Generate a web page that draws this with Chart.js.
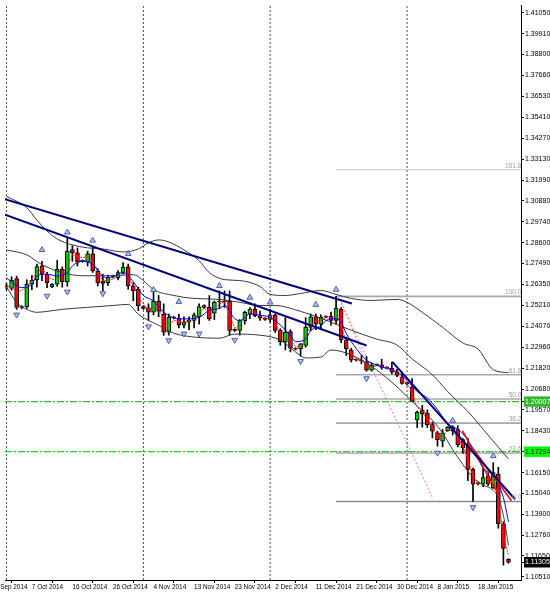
<!DOCTYPE html>
<html><head><meta charset="utf-8">
<script src="https://cdn.jsdelivr.net/npm/chart.js@4.4.1/dist/chart.umd.min.js"></script>
<style>html,body{margin:0;padding:0;background:#fff;overflow:hidden}#wrap{width:550px;height:592px}</style>
</head><body><div id="wrap"><canvas id="c" width="550" height="592"></canvas></div>
<script>
// ---------- data ----------
const dates = ['1 Oct 2014','2 Oct 2014','3 Oct 2014','5 Oct 2014','6 Oct 2014','7 Oct 2014','8 Oct 2014','9 Oct 2014','10 Oct 2014','12 Oct 2014','13 Oct 2014','14 Oct 2014','15 Oct 2014','16 Oct 2014','17 Oct 2014','19 Oct 2014','20 Oct 2014','21 Oct 2014','22 Oct 2014','23 Oct 2014','24 Oct 2014','26 Oct 2014','27 Oct 2014','28 Oct 2014','29 Oct 2014','30 Oct 2014','31 Oct 2014','2 Nov 2014','3 Nov 2014','4 Nov 2014','5 Nov 2014','6 Nov 2014','7 Nov 2014','9 Nov 2014','10 Nov 2014','11 Nov 2014','12 Nov 2014','13 Nov 2014','14 Nov 2014','16 Nov 2014','17 Nov 2014','18 Nov 2014','19 Nov 2014','20 Nov 2014','21 Nov 2014','23 Nov 2014','24 Nov 2014','25 Nov 2014','26 Nov 2014','27 Nov 2014','28 Nov 2014','30 Nov 2014','1 Dec 2014','2 Dec 2014','3 Dec 2014','4 Dec 2014','5 Dec 2014','7 Dec 2014','8 Dec 2014','9 Dec 2014','10 Dec 2014','11 Dec 2014','12 Dec 2014','14 Dec 2014','15 Dec 2014','16 Dec 2014','17 Dec 2014','18 Dec 2014','19 Dec 2014','21 Dec 2014','22 Dec 2014','23 Dec 2014','24 Dec 2014','25 Dec 2014','26 Dec 2014','28 Dec 2014','29 Dec 2014','30 Dec 2014','31 Dec 2014','1 Jan 2015','2 Jan 2015','4 Jan 2015','5 Jan 2015','6 Jan 2015','7 Jan 2015','8 Jan 2015','9 Jan 2015','11 Jan 2015','12 Jan 2015','13 Jan 2015','14 Jan 2015','15 Jan 2015','16 Jan 2015','18 Jan 2015','19 Jan 2015','20 Jan 2015','21 Jan 2015','22 Jan 2015','23 Jan 2015','25 Jan 2015'];
const open  = [1.2628,1.2614,1.2666,1.2510,1.2515,1.2636,1.2659,1.2735,1.2690,1.2622,1.2636,1.2717,1.2650,1.2824,1.2806,1.2760,1.2755,1.2800,1.2708,1.2654,1.2645,1.2675,1.2672,1.2700,1.2730,1.2627,1.2609,1.2515,1.2508,1.2485,1.2545,1.2475,1.2377,1.2457,1.2452,1.2415,1.2430,1.2440,1.2460,1.2520,1.2511,1.2480,1.2540,1.2545,1.2543,1.2392,1.2386,1.2439,1.2475,1.2502,1.2466,1.2452,1.2445,1.2470,1.2386,1.2323,1.2380,1.2287,1.2287,1.2305,1.2404,1.2460,1.2420,1.2462,1.2462,1.2440,1.2502,1.2332,1.2278,1.2228,1.2225,1.2216,1.2171,1.2198,1.2200,1.2185,1.2182,1.2162,1.2135,1.2100,1.2081,1.1902,1.1955,1.1938,1.1876,1.1831,1.1786,1.1843,1.1861,1.1849,1.1795,1.1759,1.1634,1.1558,1.1553,1.1598,1.1535,1.1608,1.1339,1.1147];
const high  = [1.2640,1.2676,1.2680,1.2520,1.2660,1.2683,1.2745,1.2760,1.2700,1.2640,1.2765,1.2730,1.2887,1.2845,1.2833,1.2768,1.2815,1.2842,1.2720,1.2690,1.2685,1.2685,1.2710,1.2753,1.2745,1.2645,1.2620,1.2520,1.2530,1.2600,1.2575,1.2530,1.2475,1.2462,1.2475,1.2460,1.2460,1.2480,1.2530,1.2525,1.2575,1.2545,1.2600,1.2600,1.2600,1.2395,1.2445,1.2490,1.2510,1.2530,1.2490,1.2455,1.2500,1.2475,1.2395,1.2455,1.2390,1.2292,1.2315,1.2455,1.2475,1.2475,1.2470,1.2465,1.2485,1.2570,1.2510,1.2350,1.2290,1.2232,1.2250,1.2245,1.2210,1.2205,1.2230,1.2190,1.2215,1.2175,1.2160,1.2105,1.2125,1.1950,1.1980,1.1955,1.1890,1.1840,1.1850,1.1865,1.1870,1.1870,1.1800,1.1800,1.1640,1.1565,1.1640,1.1615,1.1670,1.1645,1.1350,1.1150];
const low   = [1.2605,1.2604,1.2500,1.2503,1.2505,1.2607,1.2620,1.2655,1.2618,1.2618,1.2625,1.2620,1.2625,1.2760,1.2735,1.2755,1.2735,1.2700,1.2627,1.2600,1.2630,1.2670,1.2660,1.2690,1.2609,1.2547,1.2493,1.2500,1.2440,1.2470,1.2460,1.2359,1.2360,1.2448,1.2400,1.2400,1.2390,1.2400,1.2420,1.2505,1.2440,1.2445,1.2505,1.2510,1.2360,1.2380,1.2360,1.2420,1.2450,1.2460,1.2440,1.2440,1.2430,1.2375,1.2305,1.2280,1.2270,1.2280,1.2247,1.2295,1.2385,1.2390,1.2395,1.2455,1.2415,1.2420,1.2320,1.2250,1.2215,1.2220,1.2205,1.2165,1.2165,1.2195,1.2175,1.2180,1.2150,1.2135,1.2095,1.2090,1.2000,1.1860,1.1862,1.1860,1.1804,1.1759,1.1755,1.1840,1.1820,1.1755,1.1720,1.1572,1.1460,1.1550,1.1540,1.1545,1.1530,1.1315,1.1115,1.1125];
const close = [1.2622,1.2657,1.2510,1.2515,1.2636,1.2659,1.2732,1.2690,1.2645,1.2636,1.2717,1.2650,1.2815,1.2806,1.2755,1.2764,1.2800,1.2708,1.2645,1.2640,1.2672,1.2680,1.2699,1.2729,1.2627,1.2600,1.2520,1.2505,1.2485,1.2545,1.2490,1.2377,1.2457,1.2452,1.2415,1.2430,1.2440,1.2470,1.2515,1.2510,1.2448,1.2540,1.2545,1.2540,1.2386,1.2386,1.2439,1.2484,1.2502,1.2466,1.2452,1.2445,1.2470,1.2386,1.2323,1.2375,1.2290,1.2285,1.2314,1.2404,1.2460,1.2420,1.2457,1.2458,1.2440,1.2505,1.2335,1.2287,1.2225,1.2225,1.2220,1.2171,1.2198,1.2200,1.2185,1.2182,1.2160,1.2144,1.2099,1.2098,1.2001,1.1943,1.1935,1.1876,1.1840,1.1795,1.1831,1.1861,1.1840,1.1768,1.1750,1.1634,1.1554,1.1555,1.1589,1.1553,1.1616,1.1339,1.1205,1.1131];

const xTickIndex = [-3,5,13,21,29,37,45,53,61,69,77,85,93];
const xTickText  = ['28 Sep 2014','7 Oct 2014','16 Oct 2014','26 Oct 2014','4 Nov 2014','13 Nov 2014','23 Nov 2014','2 Dec 2014','11 Dec 2014','21 Dec 2014','30 Dec 2014','8 Jan 2015','18 Jan 2015'];
const yTickValues = [1.41050,1.39910,1.38800,1.37660,1.36530,1.35410,1.34270,1.33130,1.31990,1.30880,1.29740,1.28600,1.27490,1.26350,1.25210,1.24070,1.22960,1.21820,1.20680,1.19570,1.18430,1.17290,1.16150,1.15040,1.13900,1.12760,1.11650,1.10510];
const markedPrices = [1.20007, 1.17294, 1.11305];

const bbUpperIdx = [0,4,6,8,10,13,16,19,23,26,28,30,32,35,38,40,43,46,50,52,55,58,62,65,68,72,77,79,82,86,90,93,96,99];
const bbUpperVal = [1.3112,1.3050,1.2983,1.2924,1.2881,1.2849,1.2833,1.2827,1.2811,1.2827,1.2860,1.2876,1.2865,1.2822,1.2763,1.2699,1.2661,1.2656,1.2624,1.2581,1.2575,1.2586,1.2602,1.2581,1.2559,1.2548,1.2554,1.2538,1.2484,1.2403,1.2318,1.2285,1.2173,1.2157];
const bbMidIdx = [0,4,7,11,15,21,25,27,29,33,37,42,46,50,53,58,62,65,68,73,77,80,84,87,91,94,97,99];
const bbMidVal = [1.2822,1.2795,1.2742,1.2699,1.2682,1.2682,1.2688,1.2656,1.2607,1.2575,1.2559,1.2554,1.2538,1.2521,1.2521,1.2489,1.2452,1.2419,1.2387,1.2339,1.2307,1.2232,1.2146,1.2055,1.1947,1.1851,1.1754,1.1690];
const bbLowIdx = [0,2,4,6,8,11,16,21,24,26,30,33,37,42,45,50,54,57,59,62,64,68,73,77,80,84,86,88,90,92,94,96,97,98,99];
const bbLowVal = [1.2622,1.2538,1.2500,1.2484,1.2489,1.2500,1.2511,1.2521,1.2527,1.2473,1.2414,1.2371,1.2350,1.2344,1.2366,1.2360,1.2334,1.2269,1.2237,1.2242,1.2280,1.2253,1.2172,1.2081,1.2001,1.1900,1.1830,1.1740,1.1660,1.1590,1.1550,1.1520,1.1480,1.1384,1.1223];

const maBlueIdx = [0,3,5,6,8,10,12,13,15,17,19,20,21,23,25,27,29,31,33,35,38,40,42,43,45,46,48,50,52,54,56,57,59,60,62,63,65,66,67,69,71,73,75,77,79,81,83,85,87,89,91,92,93,94,96,98,99];
const maBlueVal = [1.2670,1.2618,1.2636,1.2681,1.2690,1.2681,1.2699,1.2735,1.2761,1.2743,1.2680,1.2672,1.2676,1.2700,1.2650,1.2575,1.2545,1.2485,1.2455,1.2448,1.2457,1.2495,1.2505,1.2520,1.2450,1.2439,1.2475,1.2468,1.2457,1.2415,1.2360,1.2325,1.2340,1.2385,1.2410,1.2439,1.2450,1.2430,1.2370,1.2287,1.2225,1.2198,1.2180,1.2162,1.2115,1.2055,1.2020,1.1958,1.1880,1.1850,1.1790,1.1725,1.1690,1.1640,1.1600,1.1480,1.1350];
const maRedIdx = [0,1,2,4,5,6,7,8,9,10,11,12,13,15,16,17,18,19,21,23,24,25,26,27,28,29,30,31,32,33,35,37,38,39,40,41,42,43,44,45,46,47,48,49,50,51,52,53,54,55,56,57,58,59,60,61,62,63,64,65,66,67,68,69,70,71,72,73,74,75,76,77,78,79,80,81,82,83,84,85,86,87,88,89,90,91,92,93,94,95,96,97,98,99];
const maRedVal = [1.2627,1.2618,1.2591,1.2618,1.2660,1.2705,1.2717,1.2690,1.2660,1.2672,1.2690,1.2735,1.2797,1.2779,1.2788,1.2760,1.2708,1.2654,1.2663,1.2700,1.2680,1.2630,1.2575,1.2530,1.2500,1.2510,1.2515,1.2440,1.2415,1.2440,1.2430,1.2445,1.2480,1.2505,1.2490,1.2500,1.2530,1.2540,1.2470,1.2400,1.2410,1.2450,1.2485,1.2485,1.2465,1.2450,1.2455,1.2430,1.2360,1.2345,1.2330,1.2300,1.2298,1.2350,1.2420,1.2440,1.2440,1.2455,1.2450,1.2470,1.2420,1.2315,1.2260,1.2230,1.2222,1.2200,1.2185,1.2195,1.2192,1.2185,1.2172,1.2152,1.2122,1.2100,1.2050,1.1970,1.1940,1.1905,1.1860,1.1818,1.1812,1.1845,1.1850,1.1805,1.1760,1.1690,1.1595,1.1555,1.1578,1.1580,1.1590,1.1480,1.1270,1.1170];

const fractalUpIdx = [7,12,17,24,29,34,42,48,52,61,65,88,96];
const fractalUpVal = [1.2822,1.2917,1.2873,1.2801,1.2606,1.2541,1.2627,1.2564,1.2538,1.2525,1.2607,1.1897,1.1706];
const fractalDnIdx = [2,8,12,19,28,32,35,38,45,58,71,85,92];
const fractalDnVal = [1.2471,1.2573,1.2595,1.2586,1.2407,1.2332,1.2368,1.2368,1.2334,1.2219,1.2126,1.1723,1.1428];

const navyLineA = [[-0.3,1.3096],[68.1,1.2532]];
const navyLineB = [[-0.3,1.3013],[71.0,1.2304]];
const navyLineC = [[76.1,1.2216],[100.3,1.1472]];
const redLineA  = [[89.9,1.1843],[97.0,1.1500]];
const redLineB  = [[90.9,1.1786],[99.6,1.1464]];
const pinkLineA = [[65.7,1.2553],[84.1,1.1475]];
const pinkLineB = [[66.1,1.2538],[70.4,1.2242]];

const fibLevels = [1.3256,1.2570,1.2146,1.2015,1.1884,1.1722,1.1460];
const fibText   = ['161.8','100.0','61.8','50.0','38.2','23.6','0.0'];
const fibStartIdx = 65;
const greenLevels = [1.20007, 1.17294];
const monthSepIdx = [0,27,52,79];

// ---------- chart ----------
const X_MIN = -0.293, X_MAX = 101.47, Y_MIN = 1.10346, Y_MAX = 1.41479;
Chart.defaults.font.family = '"Liberation Sans", Arial, sans-serif';
Chart.defaults.font.size = 7;

const pts = (idx, val) => idx.map((x, k) => ({x, y: val[k]}));
const seg = a => a.map(p => ({x: p[0], y: p[1]}));
const line = (data, color, width, order, extra) => Object.assign({type:'line', data, borderColor: color, borderWidth: width, pointRadius: 0, fill: false, tension: 0, order}, extra || {});

const datasets = [];
monthSepIdx.forEach(i => datasets.push(line([{x:i,y:Y_MIN},{x:i,y:Y_MAX}], '#505050', 1, 30, {borderDash:[2,2]})));
greenLevels.forEach((v,k) => datasets.push(line([{x:X_MIN,y:v},{x:X_MAX,y:v}], k===0 ? '#2ec22e' : '#10e010', 1.2, 29, {borderDash:[7,2,2,2]})));
fibLevels.forEach((v,k) => datasets.push(line([{x:fibStartIdx,y:v},{x:X_MAX,y:v}], k===0 ? '#c8c8c8' : (k===6 ? '#8c8c8c' : '#a8a8a8'), k===0 ? 1 : 1.6, 28)));
datasets.push(line(seg(pinkLineA), '#ff6f8f', 1, 27, {borderDash:[2,2]}));
datasets.push(line(seg(pinkLineB), '#ff6f8f', 1, 27, {borderDash:[2,2]}));
datasets.push({type:'bar', data: low.map((l,i)=>({x:i, y:[l, high[i]]})), backgroundColor:'#000', barThickness:1, grouped:false, order:12});
datasets.push({type:'bar', data: open.map((o,i)=>({x:i, y:[o, close[i]]})),
  backgroundColor: open.map((o,i)=> close[i] >= o ? '#00d000' : '#ff0000'),
  borderColor:'#000', borderWidth:1, borderSkipped:false, barThickness:4, minBarLength:1, grouped:false, order:11});
datasets.push(line(pts(bbUpperIdx,bbUpperVal), '#3a3a3a', 1, 6, {cubicInterpolationMode:'monotone'}));
datasets.push(line(pts(bbMidIdx,bbMidVal), '#3a3a3a', 1, 6, {cubicInterpolationMode:'monotone'}));
datasets.push(line(pts(bbLowIdx,bbLowVal), '#3a3a3a', 1, 6, {cubicInterpolationMode:'monotone'}));
datasets.push(line(pts(maRedIdx,maRedVal), '#ff2020', 1, 5, {borderDash:[2,1]}));
datasets.push(line(pts(maBlueIdx,maBlueVal), '#0000ff', 1, 4, {cubicInterpolationMode:'monotone'}));
[navyLineA, navyLineB, navyLineC].forEach(a => datasets.push(line(seg(a), '#000080', 2, 3)));
[redLineA, redLineB].forEach(a => datasets.push(line(seg(a), '#ff0000', 1.5, 3)));
const fracStyle = {type:'scatter', pointStyle:'triangle', pointRadius:3.3, backgroundColor:'#b4c0ee', borderColor:'#4a5fb0', borderWidth:1, order:1};
datasets.push(Object.assign({}, fracStyle, {data: pts(fractalUpIdx, fractalUpVal), rotation:0}));
datasets.push(Object.assign({}, fracStyle, {data: pts(fractalDnIdx, fractalDnVal), rotation:180}));

const markColors = {'1.20007':['#2fb52f','#fff'], '1.17294':['#00ff00','#000'], '1.11305':['#000','#fff']};
const fibLabelPlugin = {
  id:'fibLabels',
  afterDatasetsDraw(chart){
    const {ctx, chartArea:a, scales:{y}} = chart;
    ctx.save();
    ctx.beginPath(); ctx.rect(a.left, a.top, a.width, a.height); ctx.clip();
    ctx.font = '6.6px "Liberation Sans", Arial, sans-serif';
    ctx.fillStyle = '#a0a0a0'; ctx.textAlign = 'right'; ctx.textBaseline = 'bottom';
    fibLevels.forEach((v,k) => ctx.fillText(fibText[k], a.right + 0.5, y.getPixelForValue(v) - 0.5));
    ctx.restore();
  }
};

new Chart(document.getElementById('c'), {
  type:'bar',
  data:{datasets},
  plugins:[fibLabelPlugin],
  options:{
    responsive:false, animation:false, devicePixelRatio:1,
    layout:{padding:0},
    plugins:{legend:{display:false}, tooltip:{enabled:false}},
    scales:{
      x:{type:'linear', min:X_MIN, max:X_MAX, offset:false, position:'bottom',
        grid:{drawOnChartArea:false, tickLength:3, color:'#000'}, border:{color:'#000'},
        afterBuildTicks:s=>{ s.ticks = xTickIndex.map(v=>({value:v})); },
        afterFit:s=>{ s.height = 12; s.paddingLeft = 0; s.paddingRight = 0; },
        ticks:{autoSkip:false, maxRotation:0, minRotation:0, align:'start', padding:0, color:'#000', font:{size:6.4},
          callback:v=>{ const k = xTickIndex.indexOf(v); return k >= 0 ? xTickText[k] : ''; }}},
      y:{type:'linear', position:'right', min:Y_MIN, max:Y_MAX,
        grid:{drawOnChartArea:false, tickLength:3, color:'#000'}, border:{color:'#000'},
        afterBuildTicks:s=>{ s.ticks = yTickValues.concat(markedPrices).map(v=>({value:v})); },
        afterFit:s=>{ s.width = 29; s.paddingTop = 0; s.paddingBottom = 0; },
        ticks:{autoSkip:false, padding:1,
          callback:v=>v.toFixed(5),
          color:c=>{ const m = markColors[c.tick && c.tick.value.toFixed(5)]; return m ? m[1] : '#000'; },
          showLabelBackdrop:c=>!!markColors[c.tick && c.tick.value.toFixed(5)],
          backdropColor:c=>{ const m = markColors[c.tick && c.tick.value.toFixed(5)]; return m ? m[0] : 'rgba(0,0,0,0)'; },
          backdropPadding:{top:1,bottom:1,left:1,right:3}}}
    }
  }
});
</script></body></html>
